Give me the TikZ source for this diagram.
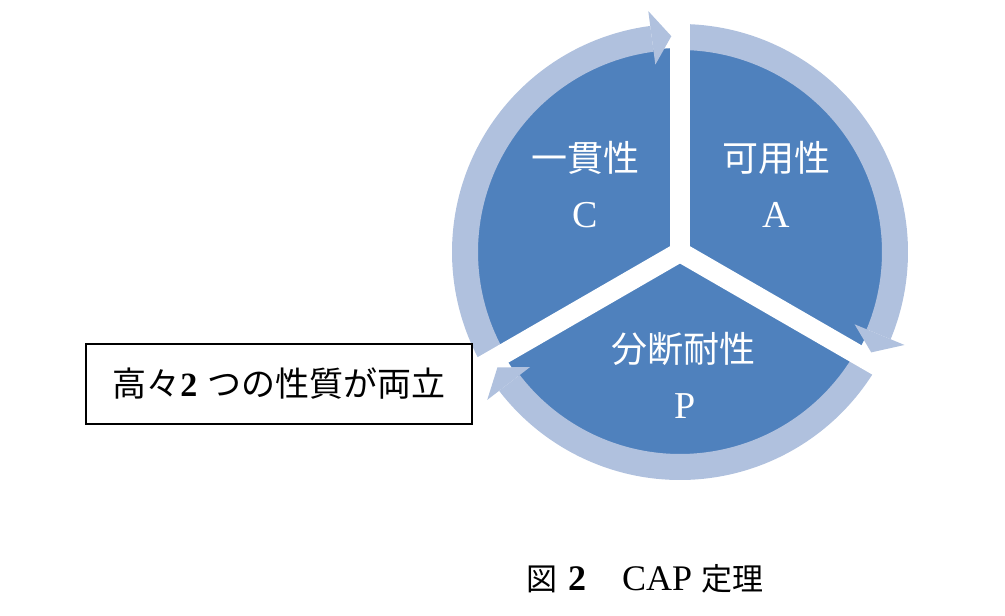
\documentclass[tikz,border=0pt]{standalone}
\usepackage{fontspec}
\newfontfamily\cjk{Noto Sans CJK JP}
\newfontfamily\lat{Liberation Serif}
\usetikzlibrary{calc}
\definecolor{secblue}{RGB}{79,129,189}
\definecolor{ringblue}{RGB}{176,193,222}
\begin{document}
\begin{tikzpicture}[x=1pt,y=1pt,
  sector/.style={fill=secblue},
  ringarc/.style={fill=ringblue},
  gapband/.style={draw=white, line width=20pt},
  seclabel/.style={text=white, font=\fontsize{36}{40}\selectfont, inner sep=0pt},
  letlabel/.style={text=white, font=\lat\fontsize{38}{42}\selectfont, inner sep=0pt},
  boxnode/.style={draw=black, line width=1.5pt, minimum width=386pt, minimum height=80pt, inner sep=0pt, font=\fontsize{34}{38}\selectfont},
]
\useasboundingbox (0,0) rectangle (1005,616);
\coordinate (c) at (680,364);
% disk
\fill[sector] (c) circle[radius=204pt];
% ring shafts
\foreach \s/\e in {90/-22.5, -30/-142.5, -150/-262.5} {
  \fill[ringarc] ($(c)+(\s:228pt)$) arc[start angle=\s, end angle=\e, radius=228pt]
    -- ($(c)+(\e:202pt)$) arc[start angle=\e, end angle=\s, radius=202pt] -- cycle;
}
% white gaps
\foreach \a in {90,-30,210} {
  \draw[gapband] (c) -- ($(c)+(\a:240pt)$);
}
% arrow heads
\foreach \b/\t in {-22.5/-27.7, -142.5/-147.7, -262.5/-267.7} {
  \fill[ringarc] ($(c)+(\b:243pt)$) -- ($(c)+(\t:216pt)$) -- ($(c)+(\b:189pt)$) -- cycle;
}
% labels
\node[seclabel] (cj) at (585,458) {\cjk 一貫性};
\node[letlabel] (cl) at (585,401) {C};
\node[seclabel] (aj) at (776,458) {\cjk 可用性};
\node[letlabel] (al) at (776,401) {A};
\node[seclabel] (pj) at (683,267) {\cjk 分断耐性};
\node[letlabel] (pl) at (685,210) {P};
% box
\node[boxnode] (box) at (279,232) {{\cjk 高々}{\lat\bfseries 2} {\cjk つの性質が両立}};
% caption
\node[anchor=base west, inner sep=0pt, font=\lat\fontsize{36}{40}\selectfont] (cap) at (526,25)
  {{\cjk\fontsize{31}{36}\selectfont 図}\hspace{11pt}{\bfseries 2}\hspace{36pt}CAP\hspace{9pt}{\cjk\fontsize{31}{36}\selectfont 定理}};
\end{tikzpicture}
\end{document}
